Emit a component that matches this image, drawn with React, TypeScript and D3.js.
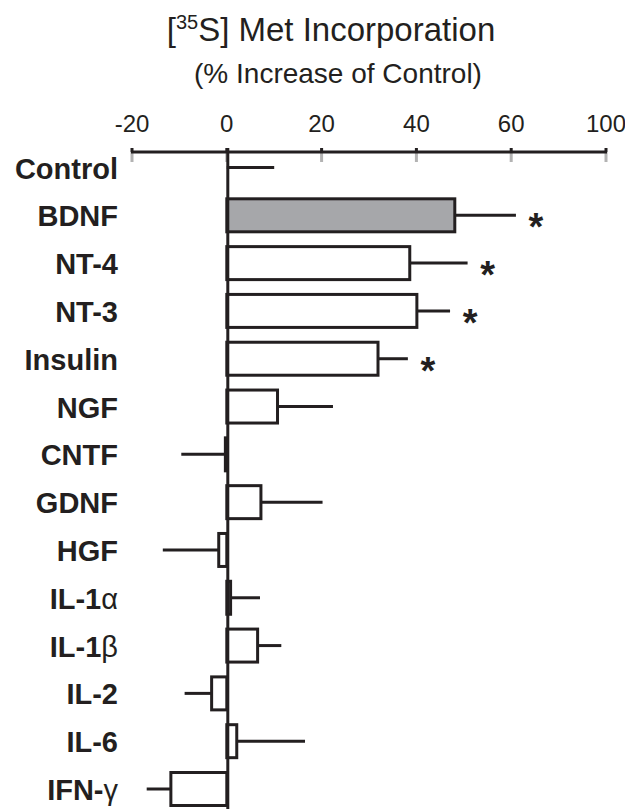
import React from "react";
import * as d3 from "d3";

const categories = ["Control", "BDNF", "NT-4", "NT-3", "Insulin", "NGF", "CNTF", "GDNF", "HGF", "IL-1α", "IL-1β", "IL-2", "IL-6", "IFN-γ"];
const means = [0, 48.1, 38.6, 40.1, 31.9, 10.7, -0.3, 7.2, -1.7, 0.8, 6.5, -3.2, 2.1, -11.8];
const errors = [10, 12.9, 12.2, 7.0, 6.3, 11.7, 9.3, 13.0, 11.8, 6.2, 5.0, 5.7, 14.4, 5.1];
const significant = ["BDNF", "NT-4", "NT-3", "Insulin"];
const highlighted = ["BDNF"];
const tickValues = [-20, 0, 20, 40, 60, 80];
const tickLabels = ["-20", "0", "20", "40", "60", "100"];

const W = 625;
const H = 809;
const FONT = "'Liberation Sans', Arial, Helvetica, sans-serif";

export default function App() {
  const x = d3.scaleLinear().domain([-20, 80]).range([132, 606]);
  const y = d3.scalePoint<string>().domain(categories).range([167.5, 789]);
  const step = y.step();
  const barH = step * 0.69;
  const axisY = 152;
  const x0 = x(0);

  const isGreek = (c: string) => /[α-ωΑ-Ω]/.test(c);

  return (
    <svg width={W} height={H} style={{ position: "absolute", left: 0, top: 0, background: "#fff" }} fontFamily={FONT}>
      <rect width={W} height={H} fill="#fff" />
      {/* Title */}
      <text x={331} y={41} textAnchor="middle" fontSize={33} fill="#231f20">
        [<tspan fontSize={20} dy={-12}>35</tspan>
        <tspan dy={12}>S] Met Incorporation</tspan>
      </text>
      <text x={338} y={83} textAnchor="middle" fontSize={28} fill="#231f20">
        (% Increase of Control)
      </text>

      {/* tick labels */}
      {tickValues.map((t, i) => (
        <text key={"tl" + i} x={x(t)} y={132} textAnchor="middle" fontSize={24} fill="#231f20">
          {tickLabels[i]}
        </text>
      ))}

      {/* gray ticks below axis */}
      {tickValues.map((t, i) => (
        <line key={"tg" + i} x1={x(t)} x2={x(t)} y1={axisY} y2={axisY + 10} stroke="#b3b3b3" strokeWidth={3} />
      ))}
      {/* axis line */}
      <line x1={x(-20) - 1} x2={x(80) + 1} y1={axisY} y2={axisY} stroke="#231f20" strokeWidth={3} />
      {tickValues.map((t, i) => (
        <line key={"tb" + i} x1={x(t)} x2={x(t)} y1={axisY - 4} y2={axisY} stroke="#231f20" strokeWidth={3} />
      ))}

      {/* error bars */}
      {categories.map((c, i) => {
        const m = means[i];
        const sgn = m < 0 ? -1 : 1;
        const cy = y(c)!;
        return (
          <line key={"e" + c} x1={x(m)} x2={x(m + sgn * errors[i])} y1={cy} y2={cy} stroke="#231f20" strokeWidth={3} />
        );
      })}

      {/* bars */}
      {categories.map((c, i) => {
        const m = means[i];
        if (m === 0) return null;
        const cy = y(c)!;
        const xa = Math.min(x0, x(m));
        const w = Math.abs(x(m) - x0);
        return (
          <rect
            key={"b" + c}
            x={xa}
            y={cy - barH / 2}
            width={w}
            height={barH}
            fill={highlighted.includes(c) ? "#a6a7aa" : "#fff"}
            stroke="#231f20"
            strokeWidth={3}
          />
        );
      })}

      {/* vertical axis */}
      <line x1={x0 + 1} x2={x0 + 1} y1={axisY - 4} y2={H} stroke="#231f20" strokeWidth={3} />

      {/* significance stars */}
      {categories.map((c, i) => {
        if (!significant.includes(c)) return null;
        const cy = y(c)!;
        return (
          <text key={"s" + c} x={x(means[i] + errors[i]) + 20} y={cy + 25} textAnchor="middle" fontSize={38} fontWeight="bold" fill="#231f20">
            *
          </text>
        );
      })}

      {/* category labels */}
      {categories.map((c) => {
        const cy = y(c)!;
        const last = c.slice(-1);
        const greek = isGreek(last);
        return (
          <text key={"l" + c} x={118} y={cy + 11} textAnchor="end" fontSize={29} fontWeight="bold" fill="#231f20">
            {greek ? (
              <>
                {c.slice(0, -1)}
                <tspan fontWeight="normal">{last}</tspan>
              </>
            ) : (
              c
            )}
          </text>
        );
      })}
    </svg>
  );
}
